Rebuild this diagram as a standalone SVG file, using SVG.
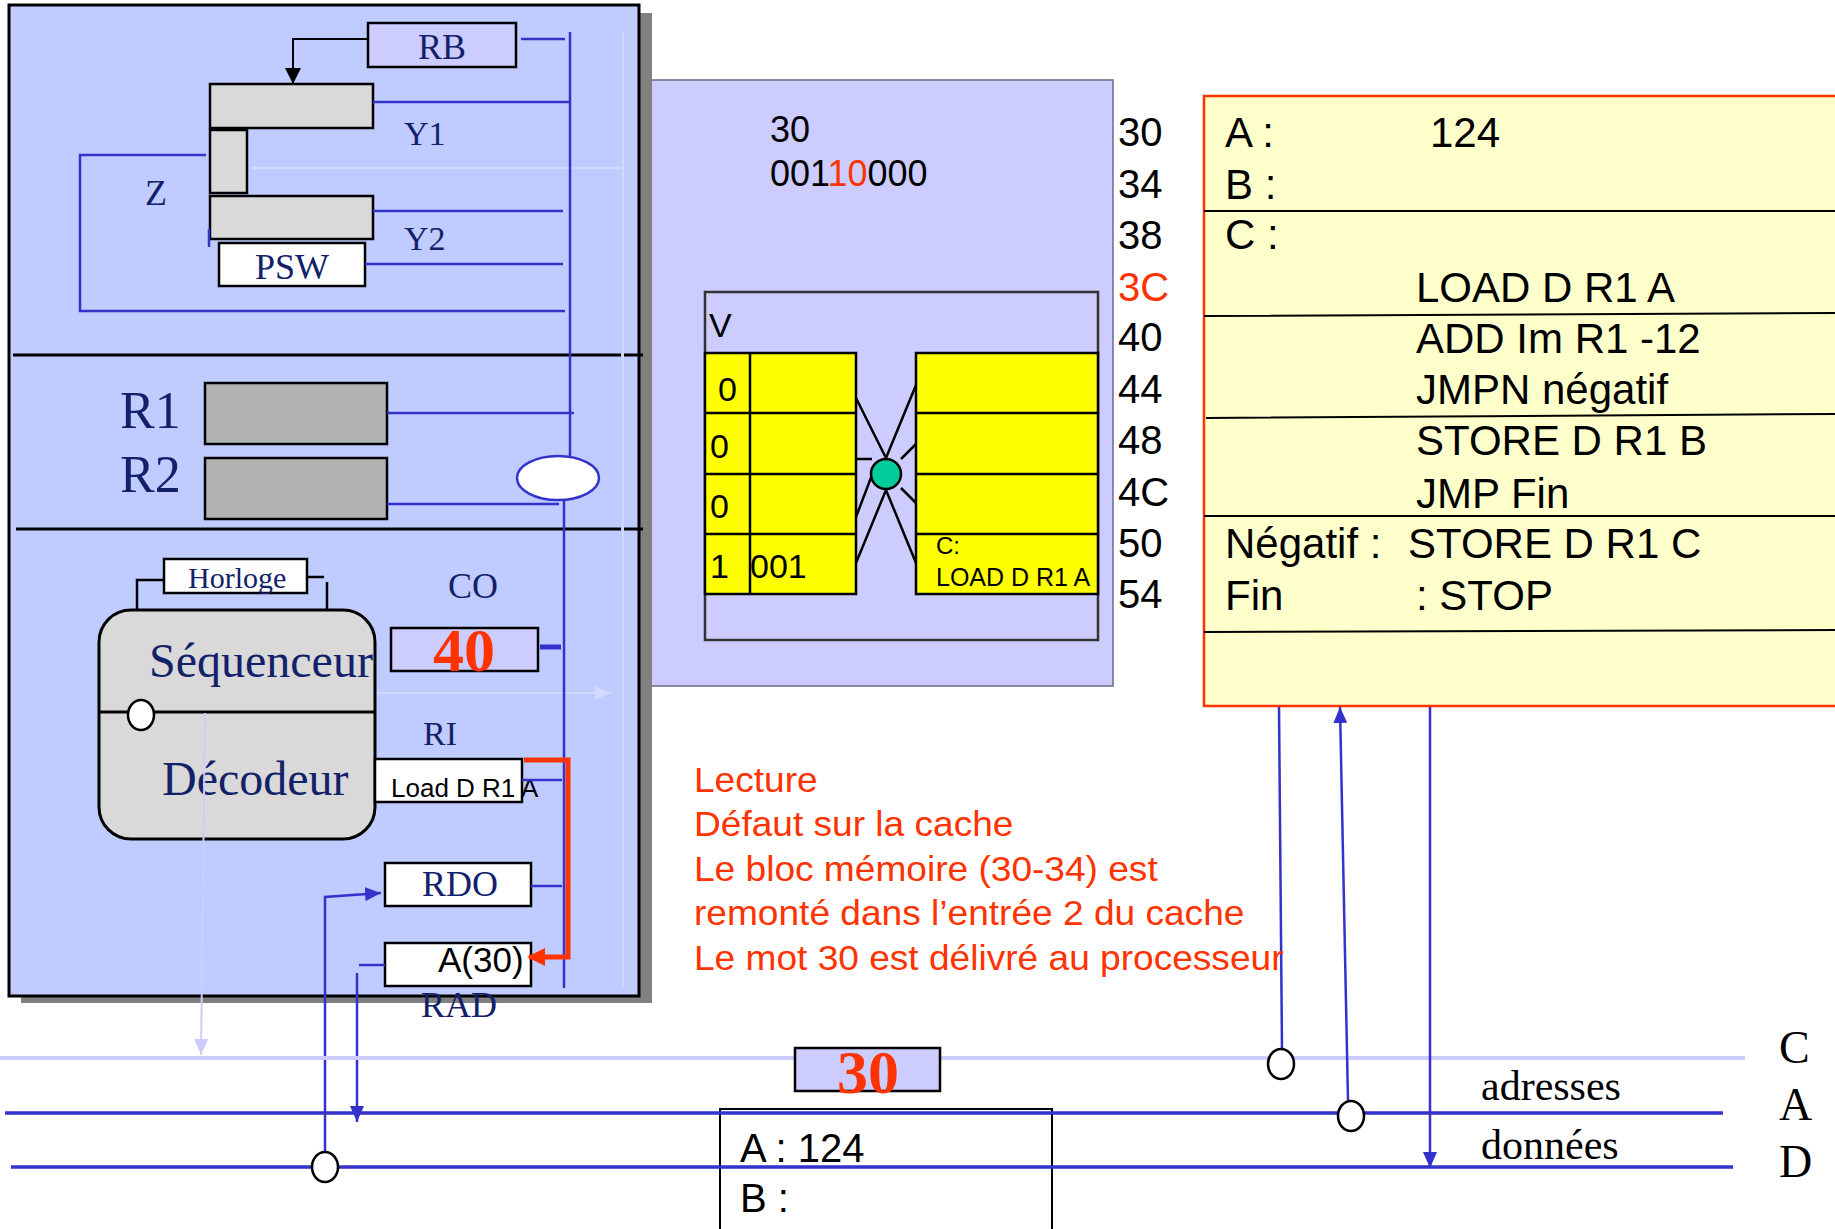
<svg xmlns="http://www.w3.org/2000/svg" width="1835" height="1229" viewBox="0 0 1835 1229">
<style>
.serif{font-family:"Liberation Serif","Times New Roman",serif;fill:#13216a}
.sans{font-family:"Liberation Sans",Arial,sans-serif;fill:#000}
.red{fill:#ff3300}
.bl{stroke:#3333cc;stroke-width:2.5;fill:none}
.blk{stroke:#000;fill:none}
.reg{fill:#d9d9d9;stroke:#000;stroke-width:2.5}
.box{stroke:#000;stroke-width:2.5}
.faint{stroke:#d2d8ff;stroke-width:2;fill:none}
</style>
<defs>
<marker id="ab" markerUnits="userSpaceOnUse" markerWidth="16" markerHeight="14" refX="16" refY="7" orient="auto"><path d="M0,0 L16,7 L0,14 z" fill="#3333cc"/></marker>
<marker id="ak" markerUnits="userSpaceOnUse" markerWidth="16" markerHeight="16" refX="16" refY="8" orient="auto"><path d="M0,0 L16,8 L0,16 z" fill="#000"/></marker>
<marker id="ar" markerUnits="userSpaceOnUse" markerWidth="18" markerHeight="18" refX="16" refY="9" orient="auto"><path d="M0,0 L18,9 L0,18 z" fill="#ff3300"/></marker>
<marker id="al" markerUnits="userSpaceOnUse" markerWidth="16" markerHeight="14" refX="16" refY="7" orient="auto"><path d="M0,0 L16,7 L0,14 z" fill="#ccccff"/></marker>
<marker id="af" markerUnits="userSpaceOnUse" markerWidth="16" markerHeight="14" refX="16" refY="7" orient="auto"><path d="M0,0 L16,7 L0,14 z" fill="#d2d8ff"/></marker>
</defs>

<!-- Cache panel -->
<g id="cache">
<rect x="646" y="80" width="467" height="606" fill="#ccccff" stroke="#6a6a8a" stroke-width="1.5"/>
<text class="sans" x="770" y="142" font-size="36">30</text>
<text class="sans" x="770" y="186" font-size="36">001<tspan class="red">10</tspan>000</text>
<rect x="705" y="292" width="393" height="348" fill="#ccccff" stroke="#333" stroke-width="2.5"/>
<text class="sans" x="709" y="337" font-size="34">V</text>
<rect x="705" y="353" width="151" height="241" fill="#ffff00" stroke="#000" stroke-width="2.5"/>
<rect x="916" y="353" width="182" height="241" fill="#ffff00" stroke="#000" stroke-width="2.5"/>
<g class="blk" stroke-width="2.5">
<path d="M750,353 V594 M705,413 H856 M705,474 H856 M705,534 H856"/>
<path d="M916,413 H1098 M916,474 H1098 M916,534 H1098"/>
<path d="M856,398 L886,458 L916,385 M856,563 L886,490 L916,563 M856,459 H872 M856,517 L872,475 M901,459 L916,444 M901,488 L916,503"/>
</g>
<ellipse cx="886" cy="474" rx="15" ry="15" fill="#00cc99" stroke="#000" stroke-width="2.5"/>
<g class="sans" font-size="34">
<text x="718" y="401">0</text><text x="710" y="458">0</text><text x="710" y="518">0</text><text x="710" y="578">1</text><text x="750" y="578">001</text>
</g>
<text class="sans" x="936" y="554" font-size="24">C:</text>
<text class="sans" x="936" y="586" font-size="25">LOAD D R1 A</text>
<g class="sans" font-size="40">
<text x="1118" y="146">30</text><text x="1118" y="198">34</text><text x="1118" y="249">38</text><text x="1118" y="301" class="red">3C</text><text x="1118" y="351">40</text><text x="1118" y="403">44</text><text x="1118" y="454">48</text><text x="1118" y="506">4C</text><text x="1118" y="557">50</text><text x="1118" y="608">54</text>
</g>
</g>

<!-- CPU panel -->
<g id="cpu">
<rect x="21" y="13" width="631" height="990" fill="#808080"/>
<rect x="9" y="5" width="630" height="991" fill="#c0ccff" stroke="#000" stroke-width="3"/>
<path d="M13,355 H621 M624,355 H643 M16,529 H621 M624,529 H643" stroke="#000" stroke-width="3"/>
<path class="faint" d="M623,32 V988 M621,168 H252"/>
<path class="faint" d="M376,693 H611" marker-end="url(#af)"/>
</g>

<g id="RB"><rect x="368" y="23" width="148" height="44" fill="#ccccff" class="box"/><text class="serif" x="442" y="59" font-size="36" text-anchor="middle">RB</text></g>
<g id="Y1"><rect x="210" y="84" width="163" height="44" class="reg"/><text class="serif" x="404" y="145" font-size="34">Y1</text></g>
<g id="Zblock"><rect x="210" y="130" width="37" height="63" class="reg"/><text class="serif" x="145" y="205" font-size="36">Z</text></g>
<g id="Y2"><rect x="210" y="196" width="163" height="43" class="reg"/><text class="serif" x="404" y="250" font-size="34">Y2</text></g>
<g id="PSW"><rect x="219" y="243" width="146" height="43" fill="#fff" class="box"/><text class="serif" x="292" y="279" font-size="36" text-anchor="middle">PSW</text></g>
<g id="R1"><text class="serif" x="120" y="428" font-size="52">R1</text><rect x="205" y="383" width="182" height="61" fill="#b2b2b2" class="box"/></g>
<g id="R2"><text class="serif" x="120" y="492" font-size="52">R2</text><rect x="205" y="458" width="182" height="61" fill="#b2b2b2" class="box"/></g>
<g id="horloge"><rect x="164" y="559" width="143" height="34" fill="#fff" class="box"/><text class="serif" x="188" y="588" font-size="30">Horloge</text></g>
<g id="seqdec">
<rect x="99" y="610" width="276" height="229" rx="32" ry="32" fill="#d9d9d9" stroke="#000" stroke-width="3"/>
<path d="M99,712 H375" stroke="#000" stroke-width="3"/>
<ellipse cx="141" cy="715" rx="13" ry="15" fill="#fff" stroke="#000" stroke-width="2.5"/>
<text class="serif" x="149" y="677" font-size="48">Séquenceur</text>
<text class="serif" x="162" y="795" font-size="48">Décodeur</text>
</g>
<g id="CO"><text class="serif" x="448" y="598" font-size="36">CO</text><rect x="391" y="628" width="147" height="43" fill="#ccccff" class="box"/><text x="464" y="671" font-family="Liberation Serif,serif" font-weight="bold" font-size="62" fill="#ff3300" text-anchor="middle">40</text></g>
<g id="RI"><text class="serif" x="423" y="745" font-size="34">RI</text><rect x="375" y="759" width="147" height="43" fill="#fff" class="box"/><text class="sans" x="391" y="797" font-size="26">Load D R1 A</text></g>
<g id="RDO"><rect x="385" y="863" width="146" height="43" fill="#fff" class="box"/><text class="serif" x="422" y="896" font-size="36">RDO</text></g>
<g id="RAD"><rect x="385" y="943" width="146" height="43" fill="#fff" class="box"/><text class="sans" x="438" y="972" font-size="35">A(30)</text><text class="serif" x="421" y="1017" font-size="36">RAD</text></g>

<!-- Memory -->
<g id="memory">
<rect x="1204" y="96" width="660" height="610" fill="#ffffcc" stroke="#ff3300" stroke-width="2.5"/>
<path d="M1204,211 H1835 M1204,316 L1835,313 M1206,418 L1835,414 M1204,516 H1835 M1204,632 L1835,630" stroke="#000" stroke-width="2"/>
<g class="sans" font-size="42">
<text x="1225" y="147">A :</text><text x="1430" y="147">124</text>
<text x="1225" y="199">B :</text>
<text x="1225" y="249">C :</text>
<text x="1416" y="302">LOAD D R1 A</text>
<text x="1416" y="353">ADD Im R1 -12</text>
<text x="1416" y="404">JMPN négatif</text>
<text x="1416" y="455">STORE D R1 B</text>
<text x="1416" y="508">JMP Fin</text>
<text x="1225" y="558">Négatif :</text><text x="1408" y="558">STORE D R1 C</text>
<text x="1225" y="610">Fin</text><text x="1416" y="610">: STOP</text>
</g>
</g>

<!-- Bottom memory box -->
<g id="membox">
<rect x="720" y="1109" width="332" height="140" fill="#fff" stroke="#000" stroke-width="2"/>
<text class="sans" x="740" y="1162" font-size="40">A : 124</text>
<text class="sans" x="740" y="1212" font-size="40">B :</text>
</g>

<!-- Connectors -->
<g id="connectors">
<path d="M368,39 H293 V84" class="blk" stroke-width="2" marker-end="url(#ak)"/>
<path class="bl" d="M521,39 H565 M570,32 V468 M373,102 H569 M373,211 H563 M365,264 H563 M206,155 H80 V311 H565 M209,229 V247 M387,413 H574 M387,504 H559 M564,500 V988 M522,780 H562 M531,886 H562 M385,965 H359"/>
<path d="M540,647 H561" stroke="#3333cc" stroke-width="5"/>
<ellipse cx="558" cy="478" rx="41" ry="22" fill="#fff" stroke="#3333cc" stroke-width="2.5"/>
<path d="M164,580 H137 V609 M307,577 H324 M327,582 V609" class="blk" stroke-width="2.5"/>
<path d="M524,760 H568 V957 H529" fill="none" stroke="#ff3300" stroke-width="5" marker-end="url(#ar)"/>
<path class="bl" d="M325,1153 V897 L381,893" marker-end="url(#ab)"/>
<path class="bl" d="M357,973 V1122" marker-end="url(#ab)"/>
<path d="M205,713 L201,1055" stroke="#ccccff" stroke-width="2" fill="none" marker-end="url(#al)"/>
<path d="M0,1058 H1745" stroke="#ccccff" stroke-width="4"/>
<path d="M5,1113 H1723 M11,1167 H1733" stroke="#3333cc" stroke-width="3.5"/>
<path class="bl" d="M1279,707 L1282,1049"/>
<path class="bl" d="M1348,1101 L1340,707" marker-end="url(#ab)"/>
<path class="bl" d="M1430,707 V1168" marker-end="url(#ab)"/>
<ellipse cx="325" cy="1167" rx="13" ry="15" fill="#fff" stroke="#000" stroke-width="2.5"/>
<ellipse cx="1281" cy="1064" rx="13" ry="15" fill="#fff" stroke="#000" stroke-width="2.5"/>
<ellipse cx="1351" cy="1116" rx="13" ry="15" fill="#fff" stroke="#000" stroke-width="2.5"/>
</g>

<g id="bus30"><rect x="795" y="1048" width="145" height="43" fill="#ccccff" class="box"/><text x="868" y="1093" font-family="Liberation Serif,serif" font-weight="bold" font-size="62" fill="#ff3300" text-anchor="middle">30</text></g>

<g id="buslabels">
<text class="serif" x="1481" y="1100" font-size="42" style="fill:#000">adresses</text>
<text class="serif" x="1481" y="1159" font-size="42" style="fill:#000">données</text>
<text class="serif" x="1779" y="1063" font-size="46" style="fill:#000">C</text>
<text class="serif" x="1779" y="1120" font-size="46" style="fill:#000">A</text>
<text class="serif" x="1779" y="1177" font-size="46" style="fill:#000">D</text>
</g>

<g id="notes" class="sans" font-size="35" transform="translate(694,0) scale(1.06,1)">
<text x="0" y="792" class="red">Lecture</text>
<text x="0" y="836" class="red">Défaut sur la cache</text>
<text x="0" y="881" class="red">Le bloc mémoire (30-34) est</text>
<text x="0" y="925" class="red">remonté dans l’entrée 2 du cache</text>
<text x="0" y="970" class="red">Le mot 30 est délivré au processeur</text>
</g>
</svg>
